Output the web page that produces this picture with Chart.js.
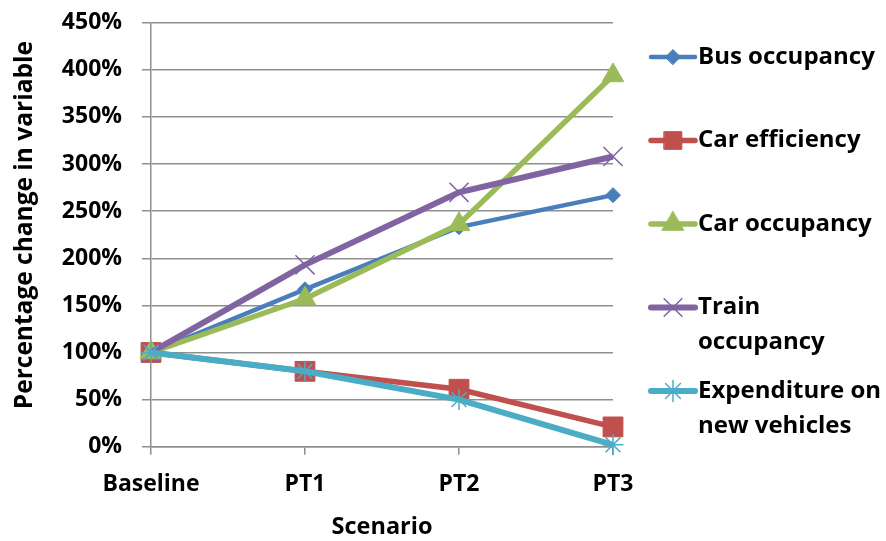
<!DOCTYPE html>
<html>
<head>
<meta charset="utf-8">
<script src="https://cdn.jsdelivr.net/npm/chart.js@4/dist/chart.umd.min.js"></script>
<style>
  html, body { margin: 0; padding: 0; background: #ffffff; }
  #wrap { width: 886px; height: 541px; position: relative; }
</style>
</head>
<body>
<div id="wrap"><canvas id="c" width="886" height="541"></canvas></div>
<script>
// ---- data ----
const categories = ['Baseline', 'PT1', 'PT2', 'PT3'];
const busOccupancy   = [100, 167, 233, 267];
const carEfficiency  = [100, 80, 61, 21];
const carOccupancy   = [100, 157, 236, 394];
const trainOccupancy = [100, 193, 270, 308];
const expenditureNewVehicles = [100, 80, 50, 2];
const seriesNames = [
  ['Bus occupancy'],
  ['Car efficiency'],
  ['Car occupancy'],
  ['Train', 'occupancy'],
  ['Expenditure on', 'new vehicles']
];
const yMin = 0, yMax = 450, yStep = 50;
const xTitle = 'Scenario';
const yTitle = '   Percentage change in variable';

const FONT = '"Open Sans"';
const gridColor = '#8f8f8f';

function ds(i, data, color, style, radius, fill, lineW, markerW) {
  return {
    label: seriesNames[i].join(' '),
    legendLines: seriesNames[i],
    data: data,
    borderColor: color,
    backgroundColor: fill ? color : 'rgba(0,0,0,0)',
    borderWidth: lineW,
    pointStyle: style,
    pointRadius: radius,
    pointHoverRadius: radius,
    pointBorderWidth: markerW,
    pointBorderColor: color,
    pointBackgroundColor: fill ? color : 'rgba(0,0,0,0)',
    tension: 0,
    clip: false,
    order: 5 - i
  };
}

const datasets = [
  ds(0, busOccupancy, '#4a7ebb', 'rectRot', 7.5, true, 4.5, 1),
  ds(1, carEfficiency, '#c0504d', 'rect', 14, true, 5.5, 1),
  ds(2, carOccupancy, '#9bbb59', 'triangle', 12.5, true, 5.5, 1),
  ds(3, trainOccupancy, '#8064a2', 'crossRot', 13.5, false, 6, 1.5),
  ds(4, expenditureNewVehicles, '#4bacc6', 'star', 10.5, false, 6, 1.5)
];

// legend drawn beside plot, evenly spaced slots like the original
const legendPlugin = {
  id: 'sideLegend',
  afterDraw(chart) {
    const ctx = chart.ctx;
    const sets = chart.data.datasets;
    const lineX0 = 651, lineX1 = 695, textX = 698;
    const firstY = 57, slot = 83.5, lineGap = 35;
    ctx.save();
    sets.forEach((d, i) => {
      const y = firstY + i * slot;
      ctx.beginPath();
      ctx.strokeStyle = d.borderColor;
      ctx.lineWidth = d.borderWidth;
      ctx.lineCap = 'round';
      ctx.moveTo(lineX0, y);
      ctx.lineTo(lineX1, y);
      ctx.stroke();
      ctx.fillStyle = d.pointBackgroundColor;
      ctx.strokeStyle = d.pointBorderColor;
      ctx.lineWidth = d.pointBorderWidth;
      Chart.helpers.drawPoint(ctx, {
        pointStyle: d.pointStyle,
        radius: Math.min(d.pointRadius, 12.5),
        rotation: 0,
        borderWidth: d.pointBorderWidth
      }, (lineX0 + lineX1) / 2, y);
      ctx.fillStyle = '#000000';
      ctx.font = 'bold 24px ' + FONT;
      ctx.textAlign = 'left';
      ctx.textBaseline = 'middle';
      d.legendLines.forEach((t, k) => ctx.fillText(t, textX, y + k * lineGap));
    });
    ctx.restore();
  }
};

new Chart(document.getElementById('c'), {
  type: 'line',
  data: { labels: categories, datasets: datasets },
  plugins: [legendPlugin],
  options: {
    responsive: false,
    animation: false,
    devicePixelRatio: 1,
    layout: { padding: { left: 0, right: 273, top: 22.7, bottom: 0 } },
    plugins: { legend: { display: false }, tooltip: { enabled: false } },
    scales: {
      x: {
        type: 'category',
        offset: false,
        afterFit: (s) => { s.height = 94.3; },
        grid: { display: true, drawOnChartArea: false, drawTicks: true, tickLength: 8, color: gridColor, lineWidth: 1.5 },
        border: { display: true, color: gridColor, width: 1.5 },
        ticks: { color: '#000', padding: 16, maxRotation: 0, autoSkip: false, font: { family: FONT, weight: 'bold', size: 23 } },
        title: { display: true, text: xTitle, color: '#000', padding: { top: 0, bottom: 0 }, font: { family: FONT, weight: 'bold', size: 23.5 } }
      },
      y: {
        min: yMin, max: yMax,
        afterFit: (s) => { s.width = 151; s.paddingTop = 0; s.paddingBottom = 0; },
        grid: { color: gridColor, lineWidth: 1.5, tickLength: 9, drawTicks: true },
        border: { display: true, color: gridColor, width: 1.5 },
        ticks: { stepSize: yStep, color: '#000', padding: 20, callback: (v) => v + '%', font: { family: FONT, weight: 'bold', size: 23 } },
        title: { display: true, text: yTitle, color: '#000', padding: { top: 10, bottom: 0 }, font: { family: FONT, weight: 'bold', size: 24.5 } }
      }
    }
  }
});
</script>
</body>
</html>
